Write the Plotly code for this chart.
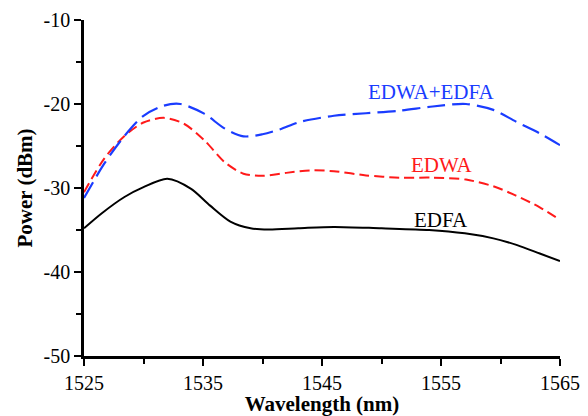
import plotly.graph_objects as go

# Data
edfa_x = [1525, 1526.5, 1528.4, 1530, 1532, 1534, 1535.6, 1537.3, 1539, 1540.5,
          1543, 1546, 1550, 1554, 1557, 1559.4, 1561.4, 1563.3, 1565]
edfa_y = [-34.8, -33.0, -31.07, -29.9, -28.9, -30.1, -32.1, -34.0, -34.8, -34.95,
          -34.8, -34.63, -34.8, -35.0, -35.4, -36.0, -36.8, -37.8, -38.7]

edwa_x = [1525, 1526.7, 1528.4, 1530, 1531.7, 1533.4, 1535.1, 1536.8, 1538.4, 1540,
          1542, 1544, 1546, 1548.7, 1551.5, 1554.3, 1557.1, 1559.4, 1561.3, 1563.3, 1565]
edwa_y = [-30.5, -26.5, -23.8, -22.2, -21.65, -22.35, -24.3, -26.9, -28.3, -28.55,
          -28.2, -27.9, -28.0, -28.5, -28.77, -28.77, -29.0, -29.8, -30.9, -32.3, -33.8]

both_x = [1525, 1526.7, 1528.4, 1530, 1531.7, 1533.1, 1535.1, 1536.8, 1538.4, 1540,
          1541.5, 1543.1, 1546, 1548.7, 1551.5, 1554.3, 1557.1, 1559.4, 1561.3, 1563.3, 1565]
both_y = [-31.2, -27.1, -23.8, -21.4, -20.2, -20.0, -21.15, -22.9, -23.85, -23.6,
          -23.0, -22.15, -21.4, -21.1, -20.8, -20.3, -20.0, -20.7, -22.1, -23.5, -24.9]

x_ticks = [1525, 1535, 1545, 1555, 1565]
y_ticks = [-50, -40, -30, -20, -10]
y_tick_text = ["-50", "-40", "-30", "-20", "-10"]

FONT = "Liberation Serif"

fig = go.Figure()
fig.add_trace(go.Scatter(x=edfa_x, y=edfa_y, mode="lines", name="EDFA",
                         line=dict(color="black", width=2, shape="spline", smoothing=0.8)))
fig.add_trace(go.Scatter(x=edwa_x, y=edwa_y, mode="lines", name="EDWA",
                         line=dict(color="#ff1a1a", width=2, shape="spline", smoothing=0.8,
                                   dash="10px,5px")))
fig.add_trace(go.Scatter(x=both_x, y=both_y, mode="lines", name="EDWA+EDFA",
                         line=dict(color="#1a3cff", width=2.2, shape="spline", smoothing=0.8,
                                   dash="18px,7px")))

fig.add_annotation(x=1554.2, y=-18.62, text="EDWA+EDFA", showarrow=False,
                   font=dict(family=FONT, size=21, color="#1a3cff"))
fig.add_annotation(x=1555.0, y=-27.24, text="EDWA", showarrow=False,
                   font=dict(family=FONT, size=21, color="#ff1a1a"))
fig.add_annotation(x=1555.0, y=-33.78, text="EDFA", showarrow=False,
                   font=dict(family=FONT, size=21, color="black"))

fig.update_layout(
    width=588, height=416,
    margin=dict(l=84, r=28, t=20, b=60),
    paper_bgcolor="white", plot_bgcolor="white",
    showlegend=False,
    font=dict(family=FONT, size=20, color="black"),
    xaxis=dict(
        range=[1525, 1565], tickvals=x_ticks, showgrid=False, zeroline=False,
        automargin=False,
        showline=True, linecolor="black", linewidth=2.5,
        ticks="outside", ticklen=7, tickwidth=2, tickcolor="black",
        minor=dict(dtick=5, tick0=1525, ticks="outside", ticklen=5, tickwidth=1.5, tickcolor="black"),
        title=dict(text="<b>Wavelength (nm)</b>", font=dict(family=FONT, size=21), standoff=8),
        tickfont=dict(family=FONT, size=20),
    ),
    yaxis=dict(
        range=[-50, -10], tickvals=y_ticks, ticktext=y_tick_text, showgrid=False, zeroline=False,
        automargin=False,
        showline=True, linecolor="black", linewidth=2.5,
        ticks="outside", ticklen=7, tickwidth=2, tickcolor="black",
        minor=dict(dtick=5, tick0=-50, ticks="outside", ticklen=5, tickwidth=1.5, tickcolor="black"),
        title=dict(text="<b>Power (dBm)</b>", font=dict(family=FONT, size=21), standoff=6),
        tickfont=dict(family=FONT, size=20),
    ),
)

fig.write_html("out.html", config={"displayModeBar": False},
               post_script="document.body.style.margin='0';document.body.style.padding='0';")
